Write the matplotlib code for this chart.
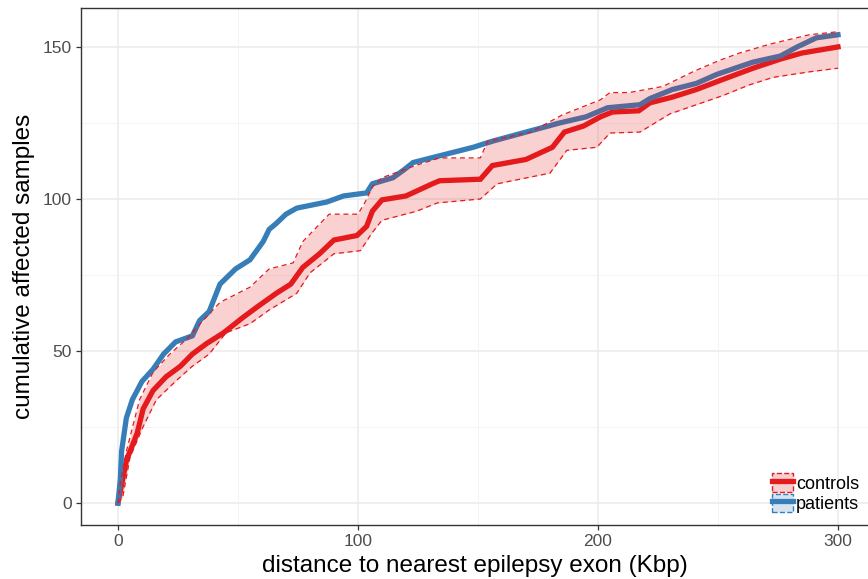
import numpy as np
import matplotlib
matplotlib.use("Agg")
import matplotlib.pyplot as plt
from matplotlib.patches import Patch
from matplotlib.lines import Line2D

plt.rcParams['font.family'] = ['Liberation Sans', 'DejaVu Sans']

# patients (cumulative curve)
pat_x = [0, 1, 1.5, 3.5, 6, 10, 14.6, 19, 24, 31, 34, 38, 40, 42.5, 49, 55, 60.5, 63, 66, 70,
         74.5, 87, 94, 103.6, 106, 114.6, 119, 123, 138, 148, 156, 170, 184, 195, 204, 217.5,
         221.6, 231, 241, 249.6, 264.6, 276, 283, 291, 300]
pat_y = [0, 8, 17, 28, 34, 40, 44, 49, 53, 55, 60, 63, 67, 72, 77, 80, 86, 90, 92, 95,
         97, 99, 101, 102, 105, 107, 109.5, 112, 115, 117, 119, 122, 125, 127, 130, 131,
         133, 136, 138, 141, 145, 147, 150, 153, 154]

# controls (mean cumulative curve)
ctl_x = [0, 1, 3.5, 8, 10.5, 14.6, 20, 26, 31, 37, 44, 52, 58, 66, 72, 77, 84, 90, 99.6, 103.6,
         106, 110, 120, 131, 134, 151, 156, 170, 181, 186, 194, 201, 206, 217, 221.6, 231, 241,
         251, 264.6, 276, 285, 300]
ctl_y = [0, 4, 14, 23, 31, 37, 41.5, 45, 49, 52.5, 56, 61, 64.5, 69, 72, 77.5, 82, 86.5, 88, 91,
         96, 99.7, 101, 105, 106, 106.5, 111, 113, 117, 122, 124, 127, 128.6, 129, 131.6, 133.5,
         136, 139, 143, 146, 148, 150]

# controls band upper / lower
up_x = [0, 1, 3.5, 9, 14.6, 21.6, 28.7, 35.4, 42.5, 50, 55, 63, 73, 77, 88, 100, 103, 106, 110,
        124, 134, 151, 154, 172, 185, 201, 205, 213, 227, 240, 251, 259, 272, 288, 300]
up_y = [0, 7, 17, 34, 43, 49, 54, 60, 66, 69, 71, 77, 79, 86, 95, 95, 99, 104, 107,
        111, 113.5, 113.5, 119, 122, 127.6, 132.6, 135, 135, 137, 142, 145.7, 148, 151, 154, 155]
lo_x = [0, 2, 5, 10.4, 16, 24.6, 31, 38, 45, 55, 63, 74.5, 80, 90, 101, 106, 110, 124.5, 133,
        151, 158, 180, 187, 199.5, 205, 217.5, 230, 241, 252, 263, 273, 288, 300]
lo_y = [0, 2, 15, 25, 34, 40.5, 45, 49, 56, 59, 63.5, 69, 75.7, 82, 83, 89, 93, 96, 98.7,
        100, 105, 108.5, 116, 117, 121.7, 122, 128, 131, 134, 137.5, 140, 141.8, 143]

RED = '#E41A1C'
BLUE = '#377EB8'

fig = plt.figure(figsize=(8.68, 5.79), dpi=100)
ax = fig.add_axes([81/868, 54/579, 1 - 81/868, (525-8)/579])

ax.set_xlim(-15.4, 312.5)
ax.set_ylim(-7.2, 162.8)

# grid
ax.set_xticks([0, 100, 200, 300])
ax.set_yticks([0, 50, 100, 150])
ax.set_xticks([50, 150, 250], minor=True)
ax.set_yticks([25, 75, 125], minor=True)
ax.grid(which='major', color='#EBEBEB', lw=1.1)
ax.grid(which='minor', color='#F2F2F2', lw=0.6)
ax.set_axisbelow(True)

# lines
ax.plot(ctl_x, ctl_y, color=RED, lw=3.8, solid_joinstyle='miter', zorder=3)
ax.plot(pat_x, pat_y, color=BLUE, lw=3.8, solid_joinstyle='miter', zorder=3)

# ribbon on common grid
gx = np.unique(np.concatenate([up_x, lo_x]))
gu = np.interp(gx, up_x, up_y)
gl = np.interp(gx, lo_x, lo_y)
ax.fill_between(gx, gl, gu, color=RED, alpha=0.2, lw=0, zorder=4)
ax.plot(up_x, up_y, color=RED, lw=0.9, ls=(0, (4, 3)), zorder=5)
ax.plot(lo_x, lo_y, color=RED, lw=0.9, ls=(0, (4, 3)), zorder=5)

# spines
for s in ['left', 'top', 'bottom']:
    ax.spines[s].set_color('#333333')
    ax.spines[s].set_linewidth(1.0)
ax.spines['right'].set_visible(False)

ax.tick_params(which='major', length=3.5, width=0.9, color='#333333', labelcolor='#4D4D4D',
               labelsize=12.5, pad=3)
ax.tick_params(which='minor', length=0)

ax.set_xlabel('distance to nearest epilepsy exon (Kbp)', fontsize=17.5, labelpad=4)
ax.set_ylabel('cumulative affected samples', fontsize=17.5, labelpad=6)

h1 = (Patch(facecolor='#F8CFD0', edgecolor=RED, ls='--', lw=1.0),
      Line2D([], [], color=RED, lw=3.8))
h2 = (Patch(facecolor='#D6E4F1', edgecolor=BLUE, ls='--', lw=1.0),
      Line2D([], [], color=BLUE, lw=3.8))
leg = ax.legend([h1, h2], ['controls', 'patients'], loc='lower right',
                bbox_to_anchor=(859/868, 66/579), bbox_transform=fig.transFigure,
                frameon=False, fontsize=13, handlelength=1.2, handleheight=1.2,
                handletextpad=0.15, labelspacing=0.05, borderpad=0, borderaxespad=0)

fig.savefig('out.png', dpi=100)
